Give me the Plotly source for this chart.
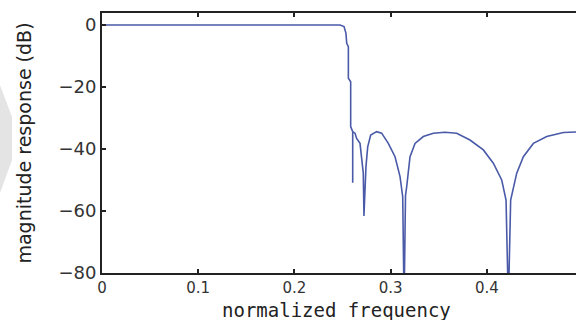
import plotly.graph_objects as go

# normalized frequency (cycles/sample) and magnitude response (dB)
freq = [0.0, 0.1, 0.2, 0.2474, 0.2516, 0.2536, 0.2544, 0.2561, 0.2561, 0.2585, 0.2585,
        0.2606, 0.2606, 0.2606, 0.2630, 0.2647, 0.2682, 0.2700, 0.2716, 0.2723, 0.2744,
        0.2762, 0.2793, 0.2855, 0.2907, 0.2976, 0.3046, 0.3098, 0.3126, 0.3140, 0.3155,
        0.3167, 0.3202, 0.3254, 0.3340, 0.3444, 0.3565, 0.3687, 0.3825, 0.3964, 0.4068,
        0.4155, 0.4200, 0.4224, 0.4248, 0.4311, 0.4380, 0.4484, 0.4623, 0.4796, 0.4927, 0.5]
mag_db = [0.0, 0.0, 0.0, 0.0, -0.5, -2.7, -5.9, -7.0, -17.2, -18.3, -32.8,
          -34.4, -50.9, -34.4, -34.9, -36.6, -38.2, -42.5, -47.8, -61.6, -45.7,
          -39.3, -35.5, -34.4, -34.9, -38.2, -42.5, -48.9, -55.4, -90.0, -55.0,
          -52.2, -42.5, -38.2, -36.0, -34.9, -34.6, -34.9, -37.1, -40.3, -44.6,
          -50.0, -56.5, -90.0, -56.5, -47.8, -42.5, -38.2, -36.0, -34.7, -34.4, -34.4]

x_ticks = [0, 0.1, 0.2, 0.3, 0.4]
x_tick_text = ["0", "0.1", "0.2", "0.3", "0.4"]
y_ticks = [0, -20, -40, -60, -80]
x_title = "normalized frequency"
y_title = "magnitude response (dB)"

W, H = 576, 320
L, T, B = 102, 13, 47
plot_w = W - L
plot_h = H - T - B

fig = go.Figure()
fig.add_trace(go.Scatter(x=freq, y=mag_db, mode="lines",
                         line=dict(color="#4a5aa8", width=1.6),
                         hoverinfo="skip", showlegend=False))

def px2paper(px, py):
    return (px - L) / plot_w, (H - B - py) / plot_h

pts = [px2paper(0, 85), px2paper(12, 117), px2paper(12, 160), px2paper(0, 193)]
path = "M " + " L ".join(f"{x:.4f},{y:.4f}" for x, y in pts) + " Z"

tx, ty = px2paper(336, 310)

fig.update_layout(
    width=W, height=H,
    margin=dict(l=L, r=0, t=T, b=B),
    paper_bgcolor="white", plot_bgcolor="white",
    font=dict(family="DejaVu Sans", size=18, color="#222"),
    shapes=[dict(type="path", path=path, xref="paper", yref="paper",
                 fillcolor="#e4e4e4", line=dict(width=0), layer="below")],
    annotations=[dict(text=x_title, xref="paper", yref="paper", x=tx, y=ty,
                      xanchor="center", yanchor="middle", showarrow=False,
                      font=dict(family="DejaVu Sans Mono", size=19, color="#222"))],
    xaxis=dict(range=[0, (W - L) / 962], tickvals=x_ticks, ticktext=x_tick_text,
               ticks="inside", ticklen=4, tickwidth=1.5, tickcolor="#222",
               showline=True, linecolor="#222", linewidth=2, mirror="ticks",
               showgrid=False, zeroline=False,
               tickfont=dict(family="DejaVu Sans", size=15, color="#333")),
    yaxis=dict(range=[-80, 3.86], tickvals=y_ticks,
               ticks="inside", ticklen=4, tickwidth=1.5, tickcolor="#222",
               showline=True, linecolor="#222", linewidth=2, mirror=False,
               showgrid=False, zeroline=False,
               tickfont=dict(family="DejaVu Sans", size=18, color="#333"),
               title=dict(text=y_title,
                          font=dict(family="DejaVu Sans", size=19, color="#222"),
                          standoff=22)),
)

fig.write_html("out.html")
